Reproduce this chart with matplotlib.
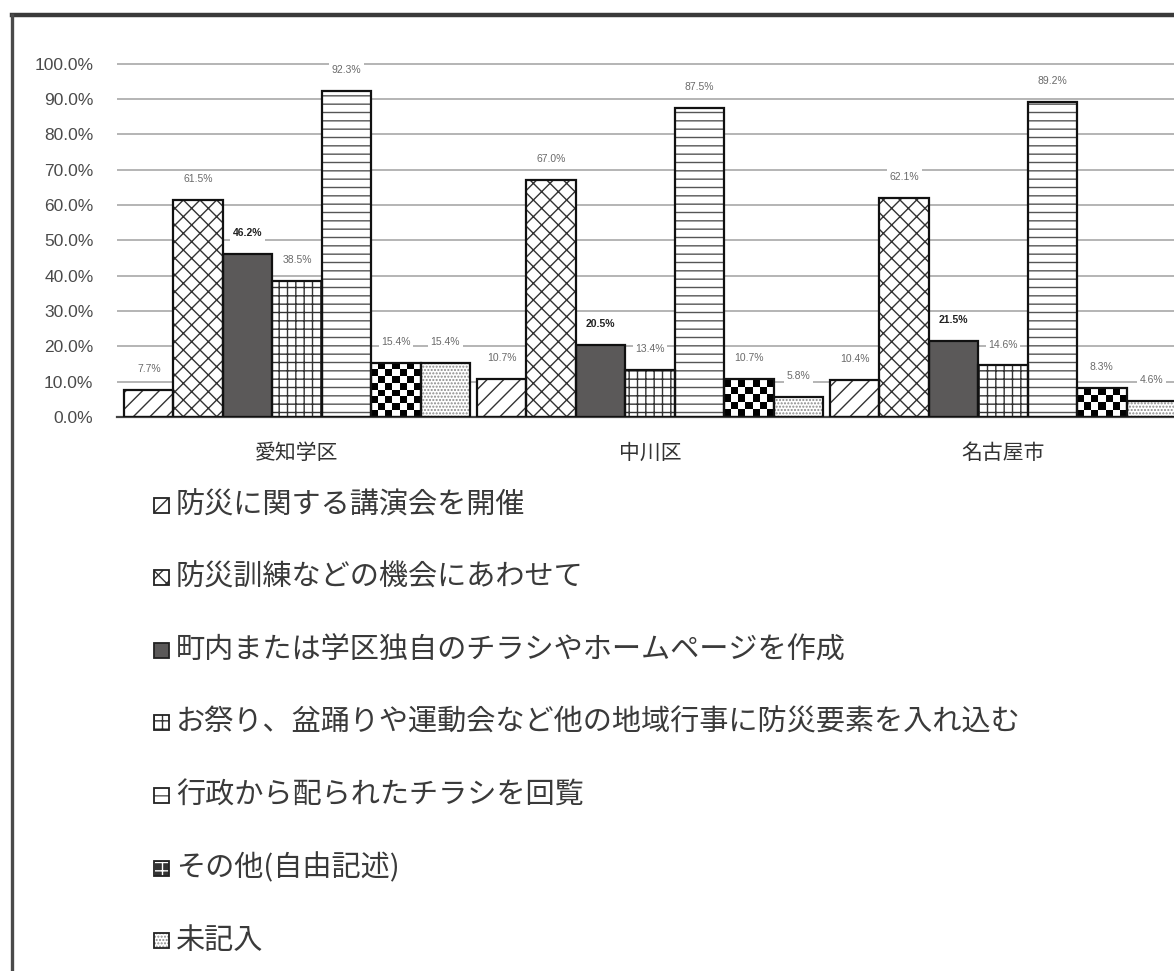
import numpy as np
import matplotlib
matplotlib.use('Agg')
import matplotlib.pyplot as plt
from matplotlib.patches import Rectangle
from matplotlib.lines import Line2D

# データ
categories = ['愛知学区', '中川区', '名古屋市']
series_names = [
    '防災に関する講演会を開催',
    '防災訓練などの機会にあわせて',
    '町内または学区独自のチラシやホームページを作成',
    'お祭り、盆踊りや運動会など他の地域行事に防災要素を入れ込む',
    '行政から配られたチラシを回覧',
    'その他(自由記述)',
    '未記入',
]
aichi = [7.7, 61.5, 46.2, 38.5, 92.3, 15.4, 15.4]
nakagawa = [10.7, 67.0, 20.5, 13.4, 87.5, 10.7, 5.8]
nagoya = [10.4, 62.1, 21.5, 14.6, 89.2, 8.3, 4.6]
yticks = np.arange(0, 101, 10)

values = np.array([aichi, nakagawa, nagoya])  # (カテゴリ, 系列)

# 系列ごとの塗り（白黒印刷風のハッチ）
faces = ['white', 'white', '#5b5959', 'white', 'white', 'white', 'white']
hatches = ['//', 'xx', None, '++', '--', None, '.....']
hatch_cols = ['#333333', '#333333', '#444444', '#333333', '#555555', '#000000', '#8a8a8a']
bold_labels = [False, False, True, False, False, False, False]

JP = ['Noto Sans CJK JP', 'DejaVu Sans']
NUM = ['Liberation Sans Narrow', 'Liberation Sans', 'DejaVu Sans']

plt.rcParams['hatch.linewidth'] = 1.0

W, H = 1174, 971
fig = plt.figure(figsize=(W / 100, H / 100), dpi=100)
fig.patch.set_facecolor('white')

# 軸の位置（ピクセルから換算）
ax_left, ax_right = 117, 1174
y0_px, ymax = 417, 101
px_per_unit = 3.534
ax_top = y0_px - ymax * px_per_unit
ax = fig.add_axes([ax_left / W, 1 - y0_px / H, (ax_right - ax_left) / W, (y0_px - ax_top) / H])

n_series = len(series_names)
bw = 0.14
x = np.arange(len(categories))

def checker_fill(ax, patch):
    # その他(自由記述)の市松模様
    bb = patch.get_bbox()
    nx = max(2, int(round((bb.x1 - bb.x0) * 353 / 7)))
    ny = max(2, int(round((bb.y1 - bb.y0) * px_per_unit / 7)))
    ii, jj = np.indices((ny, nx))
    img = ((ii + jj) % 2).astype(float)
    im = ax.imshow(img, extent=(bb.x0, bb.x1, bb.y0, bb.y1), cmap='gray',
                   interpolation='nearest', aspect='auto', zorder=2.5, origin='lower')
    im.set_clip_path(patch)

for i in range(n_series):
    pos = x + (i - (n_series - 1) / 2) * bw
    vals = values[:, i]
    bars = ax.bar(pos, vals, width=bw, color=faces[i], hatch=hatches[i],
                  edgecolor=hatch_cols[i], linewidth=0, zorder=2)
    if i == 5:
        for b in bars:
            checker_fill(ax, b)
    ax.bar(pos, vals, width=bw, fill=False, edgecolor='#111111', linewidth=1.6, zorder=3)
    for px, v in zip(pos, vals):
        ax.annotate(f'{v:.1f}%', (px, v), xytext=(0, 15), textcoords='offset points',
                    ha='center', va='center', fontsize=7.5, family=NUM,
                    color='#222222' if bold_labels[i] else '#6a6a6a',
                    fontweight='bold' if bold_labels[i] else 'normal',
                    bbox=dict(boxstyle='square,pad=0.25', fc='white', ec='none'), zorder=5)

ax.set_xlim(-0.51, -0.51 + (ax_right - ax_left) / 353)
ax.set_ylim(0, ymax)
ax.set_yticks(yticks)
ax.set_yticklabels([f'{t:.1f}%' for t in yticks], family=NUM, fontsize=12.5, color='#4a4a4a')
ax.tick_params(axis='y', length=0, pad=17)
ax.set_xticks(x)
ax.set_xticklabels(categories, family=JP, fontsize=15, color='#333333')
ax.tick_params(axis='x', length=0, pad=18)
ax.grid(axis='y', color='#a8a8a8', linewidth=1.2, zorder=0)
ax.set_axisbelow(True)
for s in ['top', 'right', 'left']:
    ax.spines[s].set_visible(False)
ax.spines['bottom'].set_color('#444444')
ax.spines['bottom'].set_linewidth(1.6)

# 凡例（手書き配置）
leg_y0, leg_step = 505, 72.6
box = 15
for i, name in enumerate(series_names):
    yc = leg_y0 + i * leg_step
    r = Rectangle((154 / W, 1 - (yc + box / 2) / H), box / W, box / H, transform=fig.transFigure,
                  facecolor=faces[i] if i != 5 else '#333333', hatch=hatches[i] if i != 5 else '++',
                  edgecolor=hatch_cols[i] if i != 5 else 'white', linewidth=0)
    fig.add_artist(r)
    fig.add_artist(Rectangle((154 / W, 1 - (yc + box / 2) / H), box / W, box / H,
                             transform=fig.transFigure, fill=False, edgecolor='#222222', linewidth=1.3))
    fig.text(176 / W, 1 - yc / H, name, family=JP, fontsize=21, color='#3a3a3a', va='center', ha='left')

# 外枠
fig.add_artist(Line2D([12 / W, 1.0], [1 - 15 / H, 1 - 15 / H], transform=fig.transFigure,
                      color='#3a3a3a', linewidth=3.2))
fig.add_artist(Line2D([12 / W, 12 / W], [1 - 15 / H, 0.0], transform=fig.transFigure,
                      color='#4a4a4a', linewidth=2.4))

fig.savefig('out.png', dpi=100, facecolor='white')
